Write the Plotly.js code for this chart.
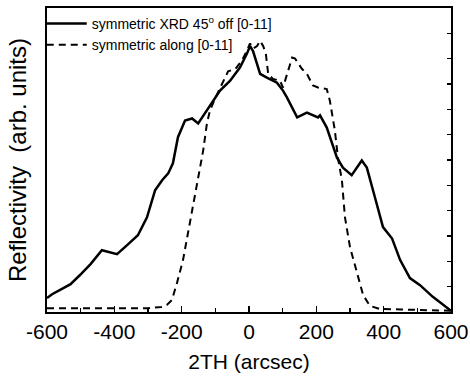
<!DOCTYPE html>
<html>
<head>
<meta charset="utf-8">
<script src="https://cdn.plot.ly/plotly-3.0.1.min.js"></script>
<style>html,body{margin:0;padding:0;background:#fff;}#chart{width:470px;height:377px;}</style>
</head>
<body>
<div id="chart"></div>
<script>
// Solid: symmetric XRD 45° off [0-11]
const solidX = [-600,-585,-561,-530,-502,-470,-437,-415,-392,-362,-330,-303,-279,-258,-240,-226,-211,-190,-169,-151,-131,-107,-86,-56,-27,-6,3,12,33,53,83,101,113,143,160,172,205,211,231,261,279,305,335,350,374,398,425,449,478,508,546,591,600];
const solidY = [0.55,0.7,0.87,1.1,1.46,1.9,2.44,2.35,2.28,2.64,3.03,3.74,4.8,5.2,5.47,5.87,6.9,7.56,7.64,7.44,7.83,8.35,8.74,9.13,9.65,10.2,10.5,10.3,9.4,9.25,9.05,8.74,8.46,7.68,7.8,7.87,7.68,7.76,7.28,6.1,5.7,5.4,5.98,5.7,4.53,3.35,2.9,2.05,1.34,1.06,0.6,0.16,0.05];
// Dashed: symmetric along [0-11]
const dashX = [-600,-500,-400,-300,-260,-244,-229,-214,-196,-181,-166,-151,-136,-125,-116,-100,-77,-62,-40,-20,-5,3,12,24,33,42,50,57,71,92,101,113,128,137,157,172,190,205,231,240,255,264,276,285,300,321,339,359,389,450,500,600];
const dashY = [0.15,0.15,0.15,0.15,0.2,0.28,0.47,1.14,2.05,3.1,4.13,5.2,6.38,7.44,7.95,8.45,9.06,9.5,9.6,9.95,10.35,10.6,10.4,10.5,10.7,10.5,10.2,9.4,9.2,9.13,8.86,9.4,10.04,10.0,9.6,9.4,8.94,8.86,8.8,8.35,7.17,6.1,5.2,3.74,2.56,1.54,0.67,0.24,0.12,0.1,0.08,0.05];
const seriesNames = ['symmetric XRD 45<sup>o</sup> off [0-11]', 'symmetric along [0-11]'];
const xTickVals = [-600,-400,-200,0,200,400,600];

const traces = [
  {x: solidX, y: solidY, type: 'scatter', mode: 'lines', name: seriesNames[0], legendgroup: 'a',
   line: {color: '#000', width: 2.5}},
  {x: dashX, y: dashY, type: 'scatter', mode: 'lines', name: seriesNames[1], legendgroup: 'b',
   line: {color: '#000', width: 2, dash: '7px,5px'}},
  // carrier for the right-hand tick axis (draws nothing)
  {x: [null], y: [null], type: 'scatter', mode: 'lines', yaxis: 'y2', showlegend: false, hoverinfo: 'skip'}
];

const layout = {
  width: 470, height: 377,
  margin: {l: 47, r: 19, t: 8, b: 65},
  paper_bgcolor: '#fff', plot_bgcolor: '#fff',
  font: {family: 'Liberation Sans, Arial, sans-serif', color: '#000'},
  showlegend: true,
  legend: {x: -0.013, y: 1, xanchor: 'left', yanchor: 'top', bgcolor: 'rgba(0,0,0,0)',
    font: {size: 14, color: '#000'}, tracegroupgap: 1, itemwidth: 40, traceorder: 'normal'},
  xaxis: {
    range: [-600, 600], tickvals: xTickVals, ticktext: xTickVals.map(String),
    ticks: 'inside', ticklen: 6, tickwidth: 1.5, tickcolor: '#000',
    minor: {dtick: 100, ticks: 'inside', ticklen: 4, tickwidth: 1.5, tickcolor: '#000', showgrid: false},
    showgrid: false, zeroline: false, showline: true, linecolor: '#000', linewidth: 2, mirror: true,
    tickfont: {size: 21}, title: {text: '2TH (arcsec)', font: {size: 21}, standoff: 12}
  },
  yaxis: {
    range: [0, 12], showticklabels: false, ticks: '', showgrid: false, zeroline: false,
    showline: true, linecolor: '#000', linewidth: 2, mirror: true,
    title: {text: 'Reflectivity  (arb. units)', font: {size: 24}, standoff: 12}
  },
  yaxis2: {
    overlaying: 'y', side: 'right', range: [0, 12], dtick: 1, ticks: 'inside', ticklen: 4,
    tickwidth: 1.2, tickcolor: '#000', showticklabels: false, showgrid: false, zeroline: false, showline: false
  }
};

Plotly.newPlot('chart', traces, layout, {displayModeBar: false, staticPlot: true});
</script>
</body>
</html>
